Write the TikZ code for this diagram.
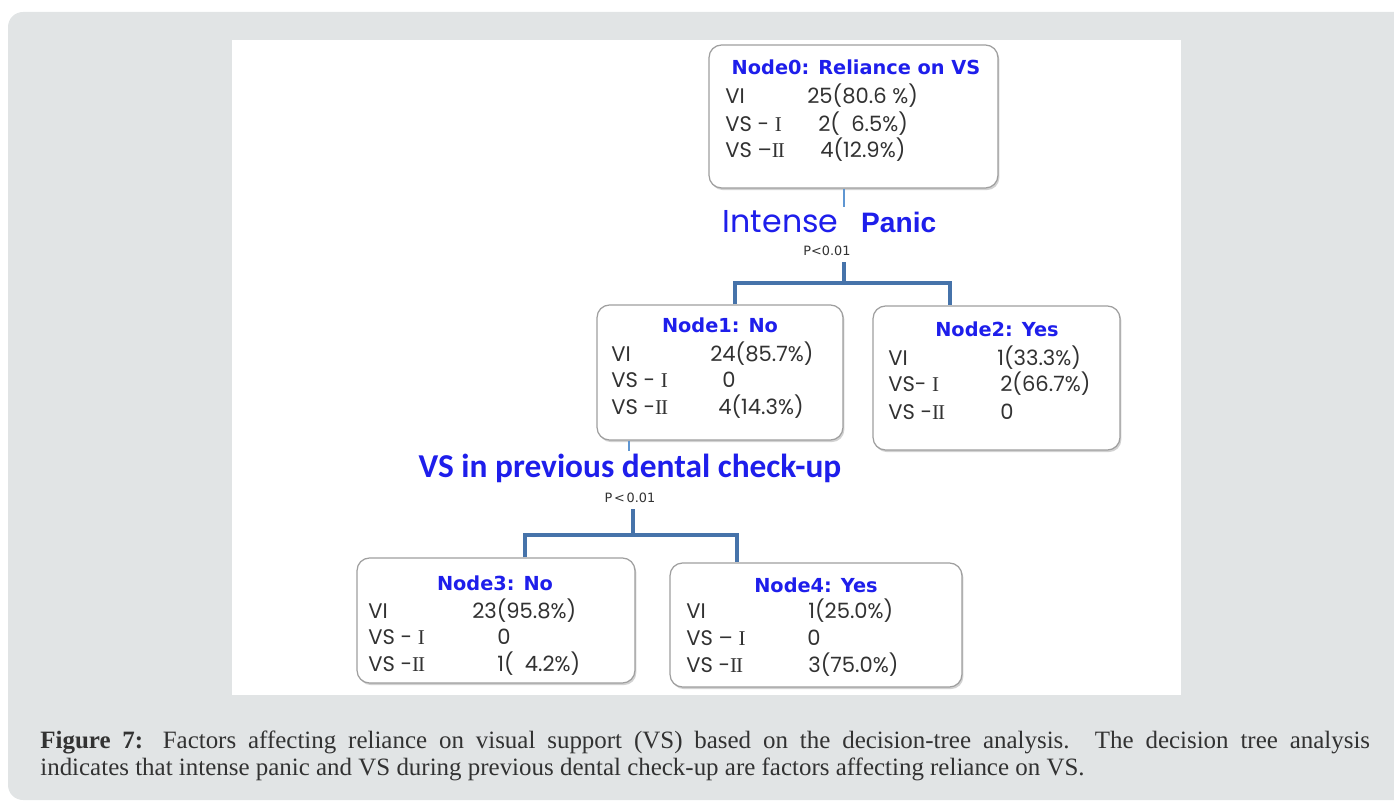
\documentclass[tikz,border=0pt]{standalone}
\usepackage{fontspec}
\setmainfont{Liberation Serif}
\newfontfamily\gothic{Poppins}
\newfontfamily\verdana{DejaVu Sans}
\newfontfamily\arial{Liberation Sans}
\newfontfamily\calibri{Carlito}
\usetikzlibrary{shadows}

\definecolor{panel}{RGB}{225,228,229}
\definecolor{nodeblue}{RGB}{30,30,235}
\definecolor{linkblue}{RGB}{70,115,170}
\definecolor{stemblue}{RGB}{95,150,210}
\definecolor{txtgray}{RGB}{50,50,50}
\newcommand{\numI}{{\rmfamily I}}
\newcommand{\numII}{{\rmfamily I\kern-0.6pt I}}

\begin{document}
\begin{tikzpicture}[
	x=0.02cm, y=-0.02cm,
	box/.style={
		draw=gray!75, line width=0.7pt, fill=white, rounded corners=0.25cm,
		drop shadow={opacity=0.35, shadow xshift=0.8pt, shadow yshift=-1.2pt}
	},
	title/.style={
		font=\verdana\bfseries\fontsize{11}{13}\selectfont,
		text=nodeblue, anchor=base, inner sep=0pt
	},
	row/.style={
		font=\gothic\fontsize{12}{14}\selectfont,
		text=txtgray, anchor=base west, inner sep=0pt
	},
	pval/.style={font=\verdana\fontsize{7.3}{9}\selectfont, text=txtgray},
	link/.style={draw=linkblue, line width=1.9pt},
	stem/.style={draw=stemblue, line width=1.2pt},
	]
	
	% Page and panels
	\useasboundingbox (0,0) rectangle (1394,804);
	\clip (0,0) rectangle (1394,804);
	\fill[panel, rounded corners=0.3cm] (8,12) rectangle (1420,800);
	\fill[white] (232,40) rectangle (1181,695);
	
	% Boxes
	\node[box, minimum width=5.78cm, minimum height=2.86cm] (n0) at (853.5,116.5) {};
	\node[box, minimum width=4.92cm, minimum height=2.70cm] (n1) at (720,372.5) {};
	\node[box, minimum width=4.94cm, minimum height=2.88cm] (n2) at (996.5,378) {};
	\node[box, minimum width=5.56cm, minimum height=2.50cm] (n3) at (496,620.5) {};
	\node[box, minimum width=5.84cm, minimum height=2.48cm] (n4) at (816,625) {};
	
	% Node0
	\node[title] (t0) at (856,75) {Node0: Reliance on VS};
	\node[row] (n0a)  at (725,104) {VI};
	\node[row] (n0av) at (807,104) {25(80.6~\%)};
	\node[row] (n0b)  at (725,132) {VS - \numI};
	\node[row] (n0bv) at (818,132) {2(~~6.5\%)};
	\node[row] (n0c)  at (725,158) {VS –\numII};
	\node[row] (n0cv) at (820,158) {4(12.9\%)};
	
	% Node1
	\node[title] (t1) at (720,333) {Node1: No};
	\node[row] (n1a)  at (611,362) {VI};
	\node[row] (n1av) at (710,362) {24(85.7\%)};
	\node[row] (n1b)  at (611,388) {VS - \numI};
	\node[row] (n1bv) at (722,388) {0};
	\node[row] (n1c)  at (611,415) {VS -\numII};
	\node[row] (n1cv) at (718,415) {4(14.3\%)};
	
	% Node2
	\node[title] (t2) at (997,337) {Node2: Yes};
	\node[row] (n2a)  at (888,366) {VI};
	\node[row] (n2av) at (997,366) {1(33.3\%)};
	\node[row] (n2b)  at (888,392) {VS- \numI};
	\node[row] (n2bv) at (1000,392) {2(66.7\%)};
	\node[row] (n2c)  at (888,419) {VS -\numII};
	\node[row] (n2cv) at (1000,419) {0};
	
	% Node3
	\node[title] (t3) at (495,590) {Node3: No};
	\node[row] (n3a)  at (368,618) {VI};
	\node[row] (n3av) at (472,618) {23(95.8\%)};
	\node[row] (n3b)  at (368,644) {VS - \numI};
	\node[row] (n3bv) at (497,644) {0};
	\node[row] (n3c)  at (368,671) {VS -\numII};
	\node[row] (n3cv) at (497,671) {1(~~4.2\%)};
	
	% Node4
	\node[title] (t4) at (816,592) {Node4: Yes};
	\node[row] (n4a)  at (686,618) {VI};
	\node[row] (n4av) at (808,618) {1(25.0\%)};
	\node[row] (n4b)  at (686,645) {VS – \numI};
	\node[row] (n4bv) at (807,645) {0};
	\node[row] (n4c)  at (686,672) {VS -\numII};
	\node[row] (n4cv) at (808,672) {3(75.0\%)};
	
	% Splits
	\node[anchor=base west, inner sep=2pt, text=nodeblue] (split0) at (719,233)
	{{\gothic\fontsize{18}{20}\selectfont Intense}\hspace{13pt}{\arial\bfseries\fontsize{16}{18}\selectfont Panic}};
	\node[pval] (p0) at (827,251) {P<0.01};
	\node[anchor=base, inner sep=2pt, text=nodeblue,
	font=\calibri\bfseries\fontsize{19}{21}\selectfont] (split1) at (630,478) {VS in previous dental check-up};
	\node[pval] (p1) at (630,498) {P\kern1pt<\kern1pt0.01};
	
	\coordinate (fork0) at (844,283);
	\coordinate (leg1) at (735,283);
	\coordinate (leg2) at (950,283);
	\coordinate (fork1) at (633,535);
	\coordinate (leg3) at (525,535);
	\coordinate (leg4) at (737,535);
	
	% Connectors
	\draw[stem] (n0.south -| fork0) -- (split0.north -| fork0);
	\draw[link] (p0.south -| fork0) -- (fork0);
	\draw[link] (leg1 |- n1.north) -- (leg1) -- (leg2) -- (leg2 |- n2.north);
	\draw[stem] (n1.south -| 629,0) -- (split1.north -| 629,0);
	\draw[link] (p1.south -| fork1) -- (fork1);
	\draw[link] (leg3 |- n3.north) -- (leg3) -- (leg4) -- (leg4 |- n4.north);
	
	% Caption
	\node[anchor=north west, inner sep=0pt, text width=26.6cm, align=justify,
	text=txtgray, font=\fontsize{14.2}{15.4}\selectfont] (cap) at (40,731)
	{{\bfseries Figure 7:} Factors affecting reliance on visual support (VS) based on the decision-tree analysis. The decision tree analysis\linebreak
	indicates that intense panic and VS during previous dental check-up are factors affecting reliance on VS.};
	
\end{tikzpicture}
\end{document}
